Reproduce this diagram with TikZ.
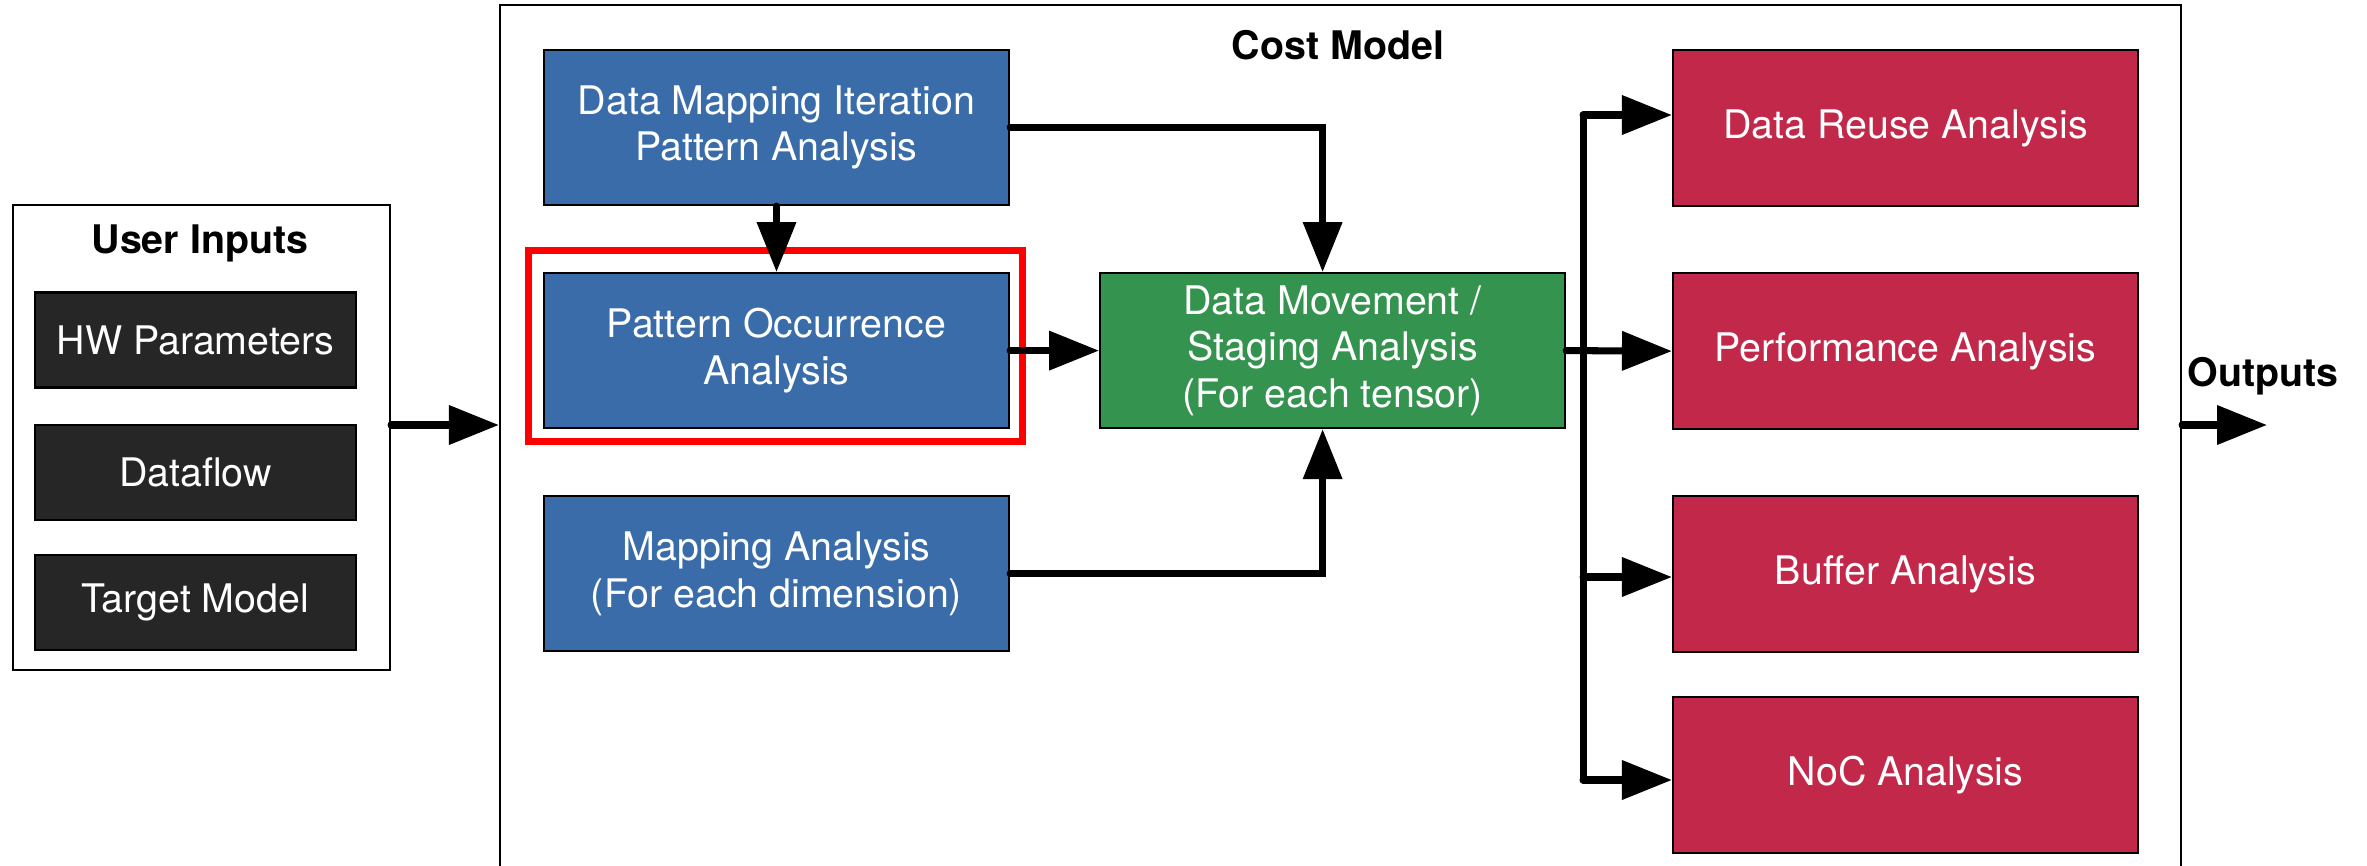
\documentclass[tikz,border=0pt]{standalone}
\usepackage{fontspec}
\setmainfont{TeX Gyre Heros}
\usepackage{xcolor}
\usepackage{tikz}
\usetikzlibrary{positioning,arrows.meta}

\definecolor{procblue}{RGB}{57,108,168}
\definecolor{stagegreen}{RGB}{52,147,78}
\definecolor{outred}{RGB}{194,40,73}
\definecolor{inblack}{RGB}{38,38,38}

\begin{document}
\begin{tikzpicture}[
  font=\fontsize{11.2}{13.2}\selectfont,
  frame/.style={draw, line width=0.6pt, inner sep=0pt},
  title/.style={font=\fontsize{11.2}{13.2}\selectfont\bfseries},
  inbox/.style={draw, fill=inblack, text=white, line width=0.6pt, minimum width=3.21cm, minimum height=0.95cm},
  proc/.style={draw, fill=procblue, text=white, align=center, line width=0.6pt, minimum width=4.65cm, minimum height=1.55cm},
  stagebox/.style={proc, fill=stagegreen},
  outbox/.style={proc, fill=outred, minimum height=1.56cm},
  flow/.style={line width=2pt, line cap=round, -{Triangle[length=5mm, width=3.8mm]}},
  hilite/.style={draw=red, line width=2pt}
]
\useasboundingbox (0,0) rectangle (23.67,-8.66);

% outer frames
\node[frame, minimum width=3.77cm, minimum height=4.65cm] (inputs) at (2.015,-4.375) {};
\node[frame, minimum width=16.81cm, minimum height=8.95cm] (costmodel) at (13.405,-4.525) {};
\node[title] (uititle) at (2.00,-2.43) {User Inputs};
\node[title] (cmtitle) at (13.38,-0.45) {Cost Model};

% user inputs
\node[inbox] (hw) at (1.955,-3.40) {HW Parameters};
\node[inbox, below=0.35cm of hw] (df) {Dataflow};
\node[inbox, below=0.33cm of df] (tm) {Target Model};

% analysis blocks
\node[proc] (dmip) at (7.765,-1.275) {Data Mapping Iteration\\Pattern Analysis};
\node[proc, below=0.66cm of dmip] (pattern) {Pattern Occurrence\\Analysis};
\node[proc, below=0.66cm of pattern] (mapping) {Mapping Analysis\\(For each dimension)};
\node[stagebox, right=0.89cm of pattern] (stage) {Data Movement /\\Staging Analysis\\(For each tensor)};

\draw[hilite] ([shift={(-0.145,0.215)}]pattern.north west) rectangle ([shift={(0.125,-0.125)}]pattern.south east);

% output analyses
\node[outbox] (reuse) at (19.055,-1.28) {Data Reuse Analysis};
\node[outbox, below=0.65cm of reuse] (perf) {Performance Analysis};
\node[outbox, below=0.65cm of perf] (buffer) {Buffer Analysis};
\node[outbox, below=0.43cm of buffer] (noc) {NoC Analysis};

\node[title] (outlbl) at (22.63,-3.76) {Outputs};

% connectors
\coordinate (in) at (2.0,-4.25);
\coordinate (out) at (22.67,-4.25);
\coordinate (j1) at (15.83,-1.15);
\coordinate (j3) at (15.83,-5.77);
\coordinate (j4) at (15.83,-7.80);

\draw[flow] (in -| inputs.east) -- (in -| costmodel.west);
\draw[flow] (dmip.south) -- (pattern.north);
\draw[flow] (dmip.east) -| ([xshift=-1mm]stage.north);
\draw[flow] (pattern.east) -- (stage.west);
\draw[flow] (mapping.east) -| ([xshift=-1mm]stage.south);

\draw[line width=2pt, line cap=round] (j1) -- (j4);
\draw[flow] (j1) -- (j1 -| reuse.west);
\draw[flow] (stage.east) -- (perf.west);
\draw[flow] (j3) -- (j3 -| buffer.west);
\draw[flow] (j4) -- (j4 -| noc.west);
\draw[flow] (out -| costmodel.east) -- (out);
\end{tikzpicture}
\end{document}
